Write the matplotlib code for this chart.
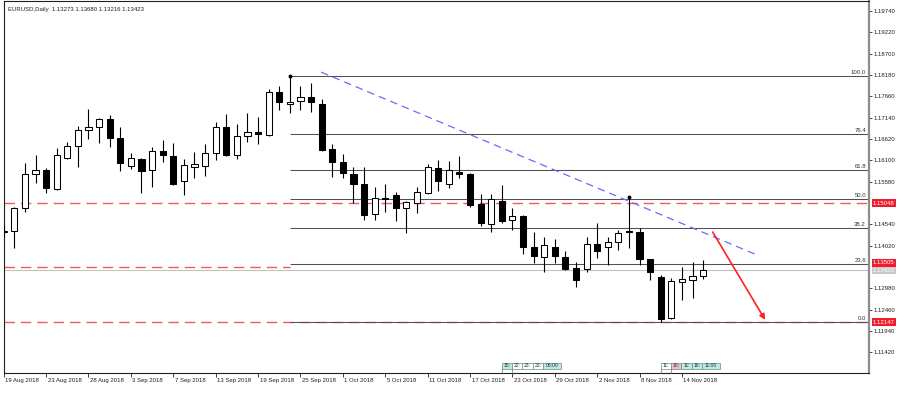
import matplotlib
matplotlib.use('Agg')
import matplotlib.pyplot as plt
from matplotlib.patches import Rectangle
import matplotlib.transforms as mtransforms

plt.rcParams['font.family'] = ['Liberation Sans', 'DejaVu Sans']

W, H = 908, 396

# ---- data (daily EURUSD candles) ----
opens = [1.1436, 1.1438, 1.1494, 1.1577, 1.1586, 1.1540, 1.1616, 1.1645, 1.1684, 1.1692,
         1.1710, 1.1665, 1.1597, 1.1613, 1.1586, 1.1633, 1.1620, 1.1560, 1.1594, 1.1596,
         1.1628, 1.1690, 1.1623, 1.1670, 1.1680, 1.1672, 1.1777, 1.1748, 1.1755, 1.1764,
         1.1747, 1.1637, 1.1605, 1.1577, 1.1552, 1.1478, 1.1517, 1.1525, 1.1493, 1.1505,
         1.1531, 1.1592, 1.1552, 1.1582, 1.1576, 1.1503, 1.1454, 1.1511, 1.1464, 1.1475,
         1.1398, 1.1375, 1.1398, 1.1375, 1.1348, 1.1345, 1.1406, 1.1398, 1.1410, 1.1438,
         1.1434, 1.1369, 1.1325, 1.1225, 1.1314, 1.1318, 1.13273]
highs = [1.1452, 1.1496, 1.1603, 1.1623, 1.1591, 1.1640, 1.1654, 1.1694, 1.1734, 1.1714,
         1.1720, 1.1692, 1.1629, 1.1616, 1.1643, 1.1660, 1.1651, 1.1613, 1.1630, 1.1650,
         1.1703, 1.1722, 1.1698, 1.1725, 1.1715, 1.1784, 1.1792, 1.1815, 1.1792, 1.1798,
         1.1759, 1.1650, 1.1625, 1.1594, 1.1594, 1.1544, 1.1552, 1.1533, 1.1510, 1.1546,
         1.1600, 1.1611, 1.1609, 1.1621, 1.1578, 1.1527, 1.1527, 1.1550, 1.1493, 1.1477,
         1.1435, 1.1422, 1.1417, 1.1389, 1.1363, 1.1424, 1.1458, 1.1424, 1.1440, 1.1520,
         1.1444, 1.1370, 1.1330, 1.1322, 1.1349, 1.1363, 1.13680]
lows = [1.1423, 1.1396, 1.1484, 1.1555, 1.1530, 1.1538, 1.1614, 1.1594, 1.1662, 1.1651,
        1.1643, 1.1585, 1.1588, 1.1530, 1.1544, 1.1607, 1.1550, 1.1525, 1.1568, 1.1572,
        1.1611, 1.1621, 1.1612, 1.1654, 1.1650, 1.1670, 1.1733, 1.1725, 1.1733, 1.1728,
        1.1633, 1.1570, 1.1566, 1.1506, 1.1464, 1.1464, 1.1485, 1.1462, 1.1432, 1.1481,
        1.1529, 1.1536, 1.1543, 1.1566, 1.1497, 1.1450, 1.1434, 1.1456, 1.1440, 1.1381,
        1.1360, 1.1338, 1.1360, 1.1342, 1.1302, 1.1338, 1.1371, 1.1355, 1.1391, 1.1395,
        1.1355, 1.1318, 1.1215, 1.1222, 1.1269, 1.1274, 1.13216]
closes = [1.1438, 1.1494, 1.1577, 1.1586, 1.1542, 1.1623, 1.1646, 1.1684, 1.1692, 1.1710,
          1.1664, 1.1603, 1.1616, 1.1585, 1.1633, 1.1623, 1.1552, 1.1599, 1.1600, 1.1627,
          1.1690, 1.1623, 1.1669, 1.1680, 1.1673, 1.1777, 1.1751, 1.1751, 1.1765, 1.1751,
          1.1635, 1.1605, 1.1578, 1.1553, 1.1477, 1.1517, 1.1515, 1.1493, 1.1508, 1.1533,
          1.1593, 1.1560, 1.1586, 1.1577, 1.1501, 1.1456, 1.1515, 1.1462, 1.1475, 1.1399,
          1.1377, 1.1404, 1.1377, 1.1345, 1.1318, 1.1406, 1.1390, 1.1412, 1.1432, 1.1435,
          1.1369, 1.1338, 1.1222, 1.1316, 1.1320, 1.1328, 1.13423]

date_labels = ['19 Aug 2018', '23 Aug 2018', '28 Aug 2018', '3 Sep 2018', '7 Sep 2018',
               '13 Sep 2018', '19 Sep 2018', '25 Sep 2018', '1 Oct 2018', '5 Oct 2018',
               '11 Oct 2018', '17 Oct 2018', '23 Oct 2018', '29 Oct 2018', '2 Nov 2018',
               '8 Nov 2018', '14 Nov 2018']
date_step = 4

price_ticks = [1.19740, 1.19220, 1.18700, 1.18180, 1.17660, 1.17140, 1.16620, 1.16100,
               1.15580, 1.14540, 1.14020, 1.12980, 1.12460, 1.11940, 1.11420]

title_text = 'EURUSD,Daily  1.13273 1.13680 1.13216 1.13423'

fib_high, fib_low = 1.1815, 1.1215
fib_levels = [100.0, 76.4, 61.8, 50.0, 38.2, 23.6, 0.0]
fib_start_bar = 27

red_levels = [1.15048, 1.13505, 1.12147]
red_level_full = [True, False, True]   # middle line stops where the fibo starts
red_tag_shift_px = [0, 4, 0]
bid_level = 1.13423

trend_x = [29.95, 71.1]
trend_y = [1.1825, 1.1379]

arrow_from = (66.9, 1.1435)
arrow_to = (71.85, 1.1221)

dot_bars = [27, 59]

events_1 = ['15:', '22:', '23:', '23:', '06:00']
events_1_colors = ['#bfe8e2', '#ffffff', '#ffffff', '#ffffff', '#bfe8e2']
events_1_bar = 47
events_2 = ['11:', '10:', '11:', '16:', '11:00']
events_2_colors = ['#ffffff', '#f4bcc8', '#bfe8e2', '#bfe8e2', '#bfe8e2']
events_2_bar = 62

# ---- figure ----
fig = plt.figure(figsize=(W / 100, H / 100), dpi=100)
ax = fig.add_axes([3.5 / W, 23 / H, 865.5 / W, 372 / H])
ax.set_xlim(-0.02, 81.65)
ax.set_ylim(1.10914, 1.19984)
xl, xr = ax.get_xlim()

# horizontal reference lines
for lv, full in zip(red_levels, red_level_full):
    x_end = xr if full else fib_start_bar
    ax.plot([xl, x_end], [lv, lv], color='#f05a5a', lw=1.0, ls=(0, (7.5, 4.3)), zorder=1)
ax.axhline(bid_level, color='#c0c0c0', lw=0.8, zorder=1)

# fibonacci
for lv in fib_levels:
    price = fib_low + (fib_high - fib_low) * lv / 100.0
    ax.plot([fib_start_bar, xr], [price, price], color='#505050', lw=0.75, zorder=2,
            solid_capstyle='butt')
    ax.annotate('%.1f' % lv, xy=(1, price), xycoords=ax.get_yaxis_transform(),
                xytext=(-3, 1), textcoords='offset pixels', ha='right', va='bottom',
                fontsize=4.3, color='#303030')

# trend line
ax.plot(trend_x, trend_y, color='#6a6aff', lw=0.9, ls=(0, (6, 4)), zorder=2)

# candles
bw = 0.58
for i in range(len(opens)):
    o, h, l, c = opens[i], highs[i], lows[i], closes[i]
    ax.vlines(i, l, h, color='black', lw=0.8, zorder=3)
    fc = 'white' if c >= o else 'black'
    bottom = min(o, c)
    height = max(abs(c - o), 0.00005)
    ax.add_patch(Rectangle((i - bw / 2, bottom), bw, height, facecolor=fc,
                           edgecolor='black', lw=0.75, zorder=4))

# anchor dots
for b in dot_bars:
    ax.plot([b], [highs[b]], 'o', color='black', ms=1.8, zorder=5)

# arrow
ax.annotate('', xy=arrow_to, xytext=arrow_from,
            arrowprops=dict(arrowstyle='-|>', color='#ff2020', lw=1.2,
                            mutation_scale=8, shrinkA=0, shrinkB=0), zorder=6)

# axes styling
for s in ['left', 'top', 'bottom']:
    ax.spines[s].set_color('#202020')
    ax.spines[s].set_linewidth(0.8)
ax.spines['right'].set_color('#8c8c8c')
ax.spines['right'].set_linewidth(1.6)

ax.yaxis.tick_right()
ax.set_yticks(price_ticks)
ax.set_yticklabels(['%.5f' % v for v in price_ticks])
ax.tick_params(axis='y', direction='out', length=2.2, width=0.6, pad=1.2,
               labelsize=4.3, colors='#202020')

ax.set_xticks(list(range(0, date_step * len(date_labels), date_step)))
ax.set_xticklabels(date_labels)
ax.tick_params(axis='x', direction='out', length=2.6, width=0.6, pad=1.3,
               labelsize=4.3, colors='#202020')
offset = mtransforms.ScaledTranslation(1.5 / 100, 0, fig.dpi_scale_trans)
for lab in ax.get_xticklabels():
    lab.set_ha('left')
    lab.set_transform(lab.get_transform() + offset)

# price tags on the axis
ax.annotate('%.5f' % bid_level, xy=(1, bid_level), xycoords=ax.get_yaxis_transform(),
            xytext=(4, 0), textcoords='offset pixels', ha='left', va='center',
            fontsize=4.3, color='white',
            bbox=dict(boxstyle='square,pad=0.25', fc='#c8c8c8', ec='none'))
for lv, sh in zip(red_levels, red_tag_shift_px):
    ax.annotate('%.5f' % lv, xy=(1, lv), xycoords=ax.get_yaxis_transform(),
                xytext=(4, sh), textcoords='offset pixels', ha='left', va='center',
                fontsize=4.3, color='white',
                bbox=dict(boxstyle='square,pad=0.25', fc='#f01c2c', ec='none'))

# title
fig.text(8 / W, 1 - 10 / H, title_text, fontsize=4.3, va='center', ha='left',
         color='#202020')

# event markers on the time axis
fig.canvas.draw()


def draw_events(labels, colors, bar):
    x0 = ax.transData.transform((bar, 1.12))[0]
    top = H - 362.5
    hgt = 6.8
    x = x0
    for k, (t, col) in enumerate(zip(labels, colors)):
        w = 18.5 if len(t) > 3 else 10.3
        fig.add_artist(Rectangle((x / W, (top - hgt) / H), w / W, hgt / H,
                                 transform=fig.transFigure, facecolor=col,
                                 edgecolor='#6a8f8a', lw=0.5))
        fig.text((x + w / 2) / W, (top - hgt / 2) / H, t, fontsize=3.6,
                 ha='center', va='center', color='#1a3a36')
        if k < 2:
            fig.add_artist(plt.Line2D([x / W, x / W], [(top - hgt) / H, 23 / H],
                                      transform=fig.transFigure, color='#707070',
                                      lw=0.5))
        x += w


draw_events(events_1, events_1_colors, events_1_bar)
draw_events(events_2, events_2_colors, events_2_bar)

fig.savefig('out.png', dpi=100, facecolor='white')
